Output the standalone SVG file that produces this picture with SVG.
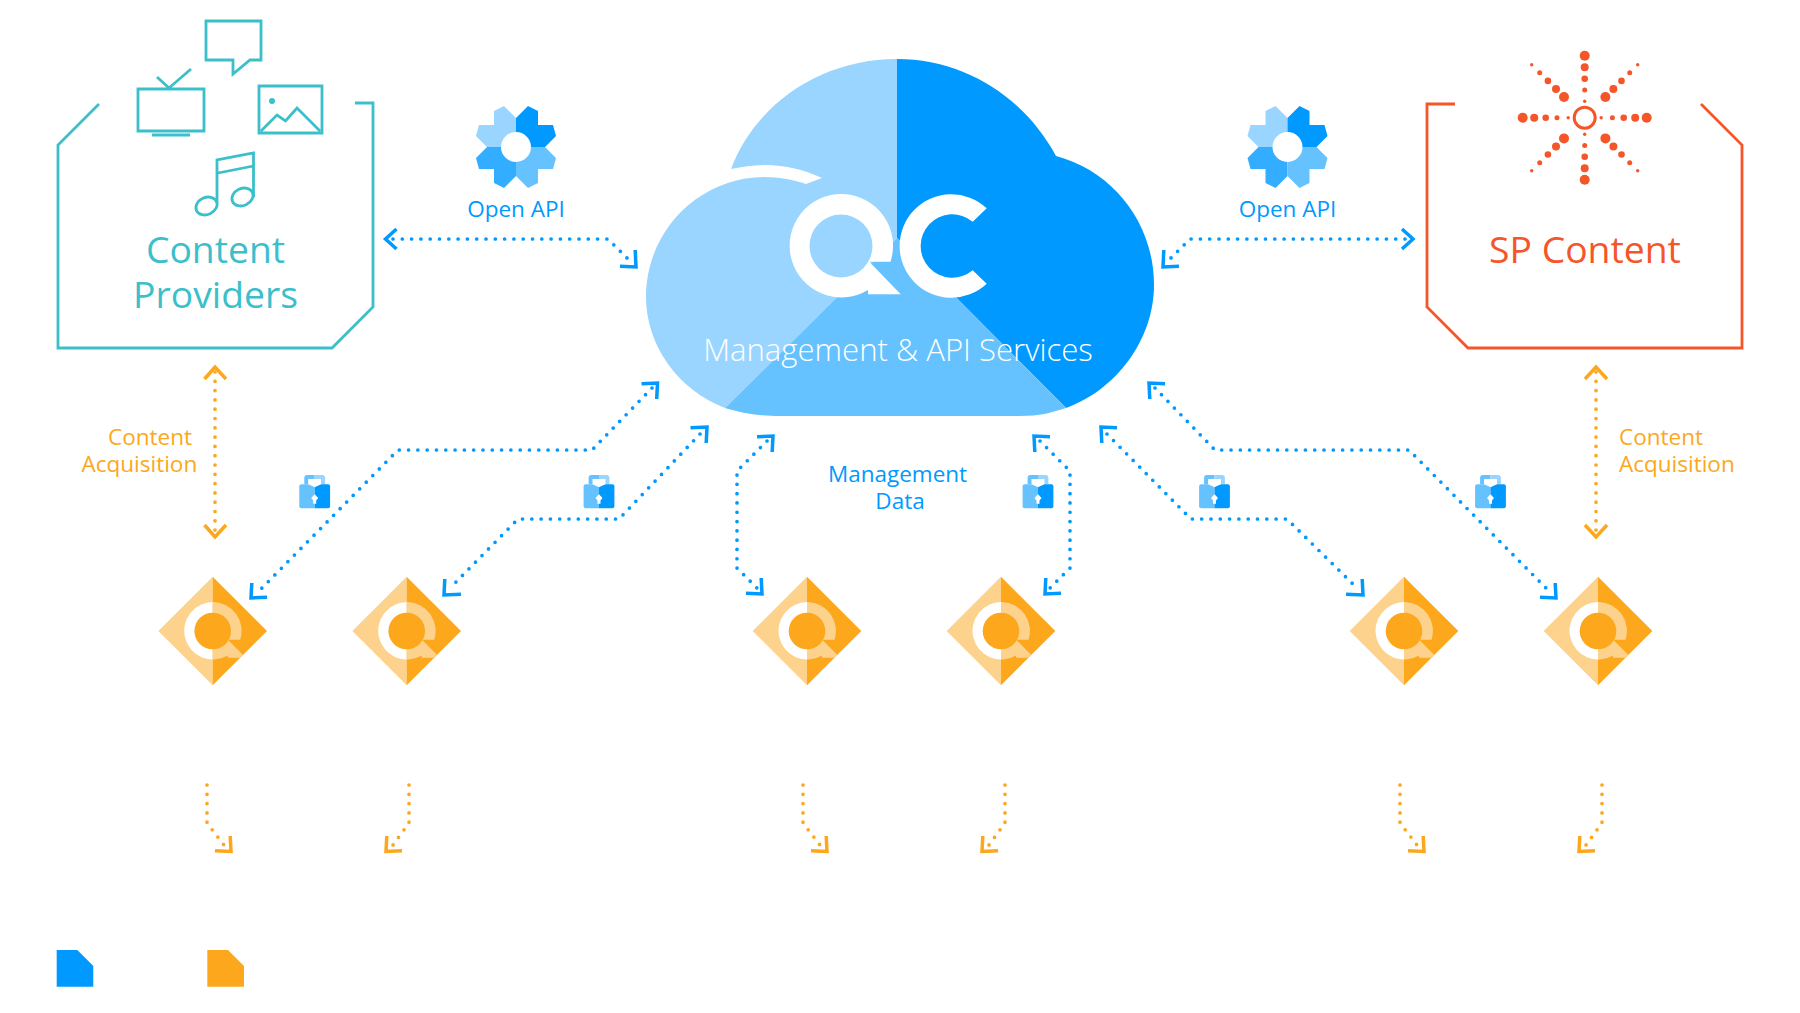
<svg xmlns="http://www.w3.org/2000/svg" xmlns:xlink="http://www.w3.org/1999/xlink" width="1800" height="1013" viewBox="0 0 1800 1013">
<style>
text{font-family:"Open Sans","Noto Sans","Liberation Sans",sans-serif}
.teal{fill:none;stroke:#3bbfcb;stroke-width:2.8}
.red{fill:none;stroke:#f4562a;stroke-width:2.8}
.bd{fill:none;stroke:#0099ff;stroke-width:3.7;stroke-linecap:round;stroke-dasharray:0 9.3}
.od{fill:none;stroke:#fca71c;stroke-width:3.7;stroke-linecap:round;stroke-dasharray:0 9.3}
.bh{fill:none;stroke:#0099ff;stroke-width:3.5;stroke-linejoin:miter;stroke-miterlimit:2}
.oh{fill:none;stroke:#fca71c;stroke-width:3.5;stroke-linejoin:miter;stroke-miterlimit:2}
.lb{fill:#0099ff;font-size:22.5px}
.lo{fill:#fca71c;font-size:22.5px}
.c1{fill:#99d5ff}.c2{fill:#0099ff}.c3{fill:#33adff}.c4{fill:#66c2ff}
.star circle{fill:#f4562a}
</style>
<defs>
<g id="gear">
<polygon class="c1" points="0,-29 -12,-41 -22,-36 -22,-22 -37,-22 -40,-11 -29,0 0,0"/>
<polygon class="c2" points="0,-29 12,-41 22,-36 22,-22 37,-22 40,-11 29,0 0,0"/>
<polygon class="c3" points="0,29 -12,41 -22,36 -22,22 -37,22 -40,11 -29,0 0,0"/>
<polygon class="c4" points="0,29 12,41 22,36 22,22 37,22 40,11 29,0 0,0"/>
<circle r="15" fill="#fff"/>
</g>
<g id="lock">
<path d="M-10.400,-12.700V-19.500Q-10.400,-22 -8,-22H0V-18H-6.300V-12.700Z" class="c4"/>
<path d="M10.400,-12.700V-19.500Q10.400,-22 8,-22H0V-18H6.300V-12.700Z" class="c1"/>
<path d="M0,-12.700H-13.400Q-15.400,-12.700 -15.400,-10.700V9.300Q-15.400,11.300 -13.400,11.300H0Z" class="c4"/>
<path d="M0,-12.700H13.400Q15.400,-12.700 15.400,-10.700V9.300Q15.400,11.300 13.400,11.300H0Z" class="c2"/>
<path d="M-6.300,-18H6.300V-12.700L0,-9.700L-6.300,-12.700Z" fill="#fff"/>
<path d="M-1.500,6.700H1.500V3.500L3.500,1L0,-2.800L-3.500,1L-1.500,3.500Z" fill="#fff"/>
</g>
<clipPath id="rh"><polygon points="0,-54.300 54.300,0 0,54.300"/></clipPath>
<clipPath id="lh"><polygon points="0,-54.300 -54.300,0 0,54.300"/></clipPath>
<g id="gw">
<polygon points="0,-54.300 -54.300,0 0,54.300" fill="#fdd28c"/>
<polygon points="0,-54.300 54.300,0 0,54.300" fill="#fca71c"/>
<path d="M27.500,8.700A28.700,28.700 0 1 0 15,24.400L15,26.800H33L16,9.500V8.700Z" fill="#fff" clip-path="url(#lh)"/>
<path d="M27.500,8.700A28.700,28.700 0 1 0 15,24.400L15,26.800H33L16,9.500V8.700Z" fill="#fdd28c" clip-path="url(#rh)"/>
<circle r="18.300" fill="#fca71c"/>
</g>
</defs>

<g id="connectors">
<path class="bd" d="M393,239H608L631,262"/>
<path class="bh" d="M396.500,229L385.500,239L396.500,249"/>
<path class="bh" d="M635.200,250L636,267L620,266.200"/>
<path class="bd" d="M1405,239H1190L1167,262"/>
<path class="bh" d="M1402,229L1413,239L1402,249"/>
<path class="bh" d="M1163.800,250L1163,267L1179,266.200"/>
<path class="bd" d="M652,388L592,450H398L259,591"/>
<path class="bh" d="M641.500,383.800L657.500,383L656.700,399"/>
<path class="bh" d="M251.800,583L251,598L267,597.200"/>
<path class="bd" d="M700,434L619,519H518L451,587"/>
<path class="bh" d="M690.500,427.800L707,427L706.200,443"/>
<path class="bh" d="M444.800,579L444,595L461,594.200"/>
<path class="bd" d="M767,441L737,471V568L757,588"/>
<path class="bh" d="M757,436.800L773,436L772.200,452"/>
<path class="bh" d="M761.200,578L762,594L746,593.200"/>
<path class="bd" d="M1040,441L1070,471V568L1050,588"/>
<path class="bh" d="M1050,436.800L1034,436L1034.800,452"/>
<path class="bh" d="M1045.800,578L1045,594L1061,593.200"/>
<path class="bd" d="M1107,434L1191,519H1287L1356,587"/>
<path class="bh" d="M1117,427.800L1101,427L1101.800,443"/>
<path class="bh" d="M1362.200,579L1363,595L1346,594.200"/>
<path class="bd" d="M1155,388L1215,450H1409L1549,591"/>
<path class="bh" d="M1165,383.800L1149,383L1149.800,399"/>
<path class="bh" d="M1555.200,583L1556,598L1540,597.200"/>
<path class="od" d="M215,372V532"/>
<path class="oh" d="M204.500,379L215,367L226,379"/>
<path class="oh" d="M204.500,525L215,537L226,525"/>
<path class="od" d="M1596,372V532"/>
<path class="oh" d="M1585,379L1596,367L1607,379"/>
<path class="oh" d="M1585,525L1596,537L1607,525"/>
<path class="od" d="M207,785V823L224,845"/>
<path class="oh" d="M230.200,836L231,851.500L215,850.700"/>
<path class="od" d="M409,785V823L393,845"/>
<path class="oh" d="M386.800,836L386,851.500L402,850.700"/>
<path class="od" d="M803,785V823L820,845"/>
<path class="oh" d="M826.200,836L827,851.500L811,850.700"/>
<path class="od" d="M1005,785V823L989,845"/>
<path class="oh" d="M982.800,836L982,851.500L998,850.700"/>
<path class="od" d="M1400,785V823L1417,845"/>
<path class="oh" d="M1423.200,836L1424,851.500L1408,850.700"/>
<path class="od" d="M1602,785V823L1586,845"/>
<path class="oh" d="M1579.800,836L1579,851.500L1595,850.700"/>
</g>

<g id="content-providers">
<path class="teal" d="M99,104L58,145V348H332L373,307V103H355"/>
<path class="teal" d="M206,21H261V60H250L233,74V60H206Z"/>
<path class="teal" d="M138,89H204V131H138ZM152,135H190M157,77L169,88L191,69"/>
<path class="teal" d="M259,86H322V133H259ZM261,131L277,115L285.500,121L297,108L320,131"/>
<circle cx="272" cy="101" r="3" fill="#3bbfcb"/>
<path class="teal" d="M217,203V160L253.500,153V197M218,173L253.500,166"/>
<ellipse class="teal" cx="206.500" cy="206" rx="11" ry="8.500" transform="rotate(-25 206.500 206)"/>
<ellipse class="teal" cx="242.500" cy="197" rx="11" ry="8.500" transform="rotate(-25 242.500 197)"/>
<text x="215.500" y="263" text-anchor="middle" font-size="37.300" fill="#3bbfcb">Content</text>
<text x="215.500" y="308" text-anchor="middle" font-size="37.300" fill="#3bbfcb">Providers</text>
</g>

<g id="open-api-left">
<use href="#gear" x="516" y="147"/>
<text x="516" y="217" text-anchor="middle" class="lb">Open API</text>
</g>

<g id="cloud">
<path class="c2" d="M897,59C965,59 1025,98 1056,156C1113,171 1154,223 1154,285C1154,340 1116,390 1066,408L897,238Z"/>
<path class="c1" d="M731,169C755,105 820,59 897,59V238L725,408C678,390 646,345 646,297C646,230 700,177 765,177C780,177 794,180 806,184L822,178C805,170 785,165 765,165C753,165 742,167 731,169Z"/>
<path class="c4" d="M897,238L1066,408C1050,413 1040,416 1020,416H780C760,416 745,414 725,408Z"/>
<path fill="#fff" fill-rule="evenodd" d="M890.500,261.700A51.700,51.700 0 1 0 868,290V294.300H900.700L870,262.500V261.700ZM872.500,246A31.500,31.500 0 1 0 809.500,246A31.500,31.500 0 1 0 872.500,246Z"/>
<path fill="#fff" d="M986.700,208.300A51.700,51.700 0 1 0 986.700,283.700L972.700,270.300A31.700,31.700 0 1 1 972.700,221.700Z"/>
<text x="898" y="361" text-anchor="middle" font-size="31.100" font-weight="300" fill="#fff">Management &amp; API Services</text>
</g>

<g id="open-api-right">
<use href="#gear" x="1287.500" y="147"/>
<text x="1287.500" y="217" text-anchor="middle" class="lb">Open API</text>
</g>

<g id="sp-content">
<path class="red" d="M1455,104H1427V307L1468,348H1742V145L1701,104"/>
<g class="star" transform="translate(1584.700 117.700)">
<circle cy="-62" r="5"/><circle cy="-50.500" r="4"/><circle cy="-39" r="3.300"/><circle cy="-27.700" r="2.500"/><circle cy="-16.500" r="1.700"/>
<circle cy="62" r="5"/><circle cy="50.500" r="4"/><circle cy="39" r="3.300"/><circle cy="27.700" r="2.500"/><circle cy="16.500" r="1.700"/>
<circle cx="-62" r="5"/><circle cx="-50.500" r="4"/><circle cx="-39" r="3.300"/><circle cx="-27.700" r="2.500"/><circle cx="-16.500" r="1.700"/>
<circle cx="62" r="5"/><circle cx="50.500" r="4"/><circle cx="39" r="3.300"/><circle cx="27.700" r="2.500"/><circle cx="16.500" r="1.700"/>
<circle cx="-20.700" cy="-20.700" r="5"/><circle cx="-28.700" cy="-28.700" r="4"/><circle cx="-36.800" cy="-36.800" r="3.300"/><circle cx="-45" cy="-45" r="2.500"/><circle cx="-53" cy="-53" r="1.700"/>
<circle cx="20.700" cy="-20.700" r="5"/><circle cx="28.700" cy="-28.700" r="4"/><circle cx="36.800" cy="-36.800" r="3.300"/><circle cx="45" cy="-45" r="2.500"/><circle cx="53" cy="-53" r="1.700"/>
<circle cx="-20.700" cy="20.700" r="5"/><circle cx="-28.700" cy="28.700" r="4"/><circle cx="-36.800" cy="36.800" r="3.300"/><circle cx="-45" cy="45" r="2.500"/><circle cx="-53" cy="53" r="1.700"/>
<circle cx="20.700" cy="20.700" r="5"/><circle cx="28.700" cy="28.700" r="4"/><circle cx="36.800" cy="36.800" r="3.300"/><circle cx="45" cy="45" r="2.500"/><circle cx="53" cy="53" r="1.700"/>
<circle r="10.500" style="fill:none;stroke:#f4562a;stroke-width:3"/>
</g>
<text x="1585" y="263" text-anchor="middle" font-size="37.300" fill="#f4562a">SP Content</text>
</g>

<g id="labels">
<text x="108" y="445" class="lo">Content</text>
<text x="81.500" y="472" class="lo">Acquisition</text>
<text x="1619" y="445" class="lo">Content</text>
<text x="1619" y="472" class="lo">Acquisition</text>
<text x="897.500" y="482" text-anchor="middle" class="lb">Management</text>
<text x="900" y="509" text-anchor="middle" class="lb">Data</text>
</g>

<g id="locks">
<use href="#lock" x="314.700" y="497"/>
<use href="#lock" x="599" y="497"/>
<use href="#lock" x="1038" y="497"/>
<use href="#lock" x="1214.500" y="497"/>
<use href="#lock" x="1490.500" y="497"/>
</g>

<g id="gateways">
<use id="gw1" href="#gw" x="212.700" y="631"/>
<use id="gw2" href="#gw" x="406.700" y="631"/>
<use id="gw3" href="#gw" x="807" y="631"/>
<use id="gw4" href="#gw" x="1001" y="631"/>
<use id="gw5" href="#gw" x="1404" y="631"/>
<use id="gw6" href="#gw" x="1598" y="631"/>
</g>

<g id="legend">
<polygon points="56.700,950 77.300,950 93.300,966 93.300,986.700 56.700,986.700" fill="#0099ff"/>
<polygon points="207.300,950 228,950 244,966 244,986.700 207.300,986.700" fill="#fca71c"/>
</g>
</svg>
